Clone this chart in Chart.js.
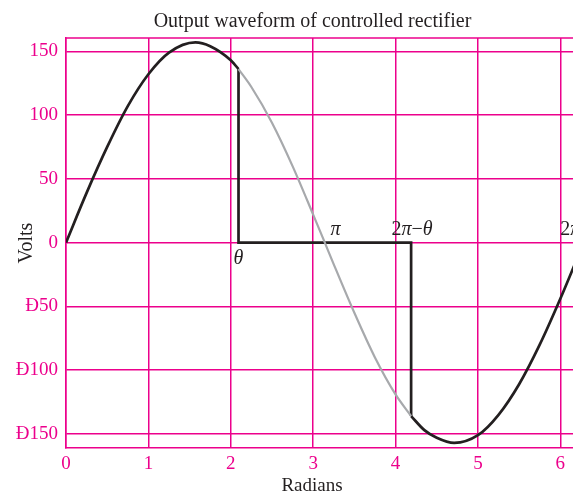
<!DOCTYPE html>
<html>
<head>
<meta charset="utf-8">
<script src="https://cdn.jsdelivr.net/npm/chart.js@4.4.1/dist/chart.umd.min.js"></script>
<style>
  html, body { margin: 0; padding: 0; background: #fff; overflow: hidden; }
  #wrap { width: 573px; height: 494px; position: relative; }
</style>
</head>
<body>
<div id="wrap"><canvas id="rectifierChart"></canvas></div>
<script>
// supply wave while the thyristor conducts, 0 .. θ
const leadX = [0, 0.25, 0.5, 0.75, 1.0, 1.25, 1.571, 1.75, 2.0, 2.094];
const leadY = [0, 39, 75, 107, 132, 149, 157, 154, 143, 136];
// part of the supply wave that is blocked, θ .. 2π−θ
const blockedX = [2.094, 2.25, 2.5, 2.75, 3.0, 3.1416, 3.25, 3.5, 3.75, 4.0, 4.189];
const blockedY = [136, 122, 94, 60, 22, 0, -17, -55, -90, -119, -136];
// conduction again from 2π−θ
const tailX = [4.189, 4.35, 4.5, 4.712, 5.0, 5.25, 5.5, 5.75, 6.0, 6.283];
const tailY = [-136, -147, -153, -157, -151, -135, -111, -80, -44, 0];
// output step: drop at θ, zero, drop at 2π−θ
const stepX = [2.094, 2.094, 4.189, 4.189];
const stepY = [136, 0, 0, -136];

const xTicks = [0, 1, 2, 3, 4, 5, 6];
const yTicks = [-150, -100, -50, 0, 50, 100, 150];

const MAGENTA = '#ec008c';
const INK = '#231f20';
const SERIF = '"Liberation Serif", "Times New Roman", serif';

const toPoints = (xs, ys) => xs.map((x, i) => ({ x: x, y: ys[i] }));

// angle markers written along the zero line
const angleLabels = [
  { parts: [['π', 'italic']], x: 3.27, y: 0, dy: -8, align: 'center' },
  { parts: [['2', 'normal'], ['π', 'italic'], ['−', 'normal'], ['θ', 'italic']], x: 4.2, y: 0, dy: -8, align: 'center' },
  { parts: [['θ', 'italic']], x: 2.094, y: 0, dy: 21, align: 'center' },
  { parts: [['2', 'normal'], ['π', 'italic']], x: 6.0, y: 0, dy: -8, align: 'left' }
];

const decorations = {
  id: 'decorations',
  afterDraw(chart) {
    const { ctx, chartArea, scales: { x, y } } = chart;
    ctx.save();
    // frame line along the top
    ctx.strokeStyle = MAGENTA;
    ctx.lineWidth = 1.5;
    ctx.beginPath();
    ctx.moveTo(chartArea.left, chartArea.top);
    ctx.lineTo(chartArea.right, chartArea.top);
    ctx.stroke();

    ctx.fillStyle = INK;
    ctx.textBaseline = 'alphabetic';
    ctx.textAlign = 'center';
    ctx.font = '20px ' + SERIF;
    ctx.fillText('Output waveform of controlled rectifier', 312.5, 27);
    ctx.font = '19px ' + SERIF;
    ctx.fillText('Radians', 312, 491);

    ctx.textAlign = 'left';
    angleLabels.forEach(lbl => {
      const widths = lbl.parts.map(([t, st]) => {
        ctx.font = st + ' 20px ' + SERIF;
        return ctx.measureText(t).width;
      });
      const total = widths.reduce((a, b) => a + b, 0);
      let px = x.getPixelForValue(lbl.x);
      px -= lbl.align === 'center' ? total / 2 : lbl.align === 'right' ? total : 0;
      const py = y.getPixelForValue(lbl.y) + lbl.dy;
      lbl.parts.forEach(([t, st], i) => {
        ctx.font = st + ' 20px ' + SERIF;
        ctx.fillText(t, px, py);
        px += widths[i];
      });
    });
    ctx.restore();
  }
};

new Chart(document.getElementById('rectifierChart'), {
  type: 'line',
  data: {
    datasets: [
      { data: toPoints(blockedX, blockedY), borderColor: '#a7a9ac', borderWidth: 2.2, cubicInterpolationMode: 'monotone' },
      { data: toPoints(leadX, leadY), borderColor: INK, borderWidth: 2.7, cubicInterpolationMode: 'monotone' },
      { data: toPoints(tailX, tailY), borderColor: INK, borderWidth: 2.7, cubicInterpolationMode: 'monotone' },
      { data: toPoints(stepX, stepY), borderColor: INK, borderWidth: 2.7, tension: 0, borderJoinStyle: 'miter' }
    ]
  },
  options: {
    responsive: true,
    maintainAspectRatio: false,
    animation: false,
    layout: { padding: { top: 38, right: 0, bottom: 0, left: 0 } },
    elements: { point: { radius: 0 } },
    plugins: {
      legend: { display: false },
      tooltip: { enabled: false }
    },
    scales: {
      x: {
        type: 'linear',
        min: 0,
        max: 6.154,
        afterBuildTicks: s => { s.ticks = xTicks.map(v => ({ value: v })); },
        afterFit: s => { s.height = 46; },
        grid: { color: MAGENTA, lineWidth: 1.5, drawTicks: false },
        border: { color: MAGENTA, width: 1.5 },
        ticks: { color: MAGENTA, padding: 5, font: { family: SERIF, size: 19 } }
      },
      y: {
        min: -161,
        max: 160.4,
        afterBuildTicks: s => { s.ticks = yTicks.map(v => ({ value: v })); },
        afterFit: s => { s.width = 66; },
        grid: { color: MAGENTA, lineWidth: 1.5, drawTicks: false },
        border: { color: MAGENTA, width: 1.5 },
        ticks: {
          color: MAGENTA, padding: 8, font: { family: SERIF, size: 19 },
          callback: v => v < 0 ? 'Đ' + Math.abs(v) : String(v)
        },
        title: {
          display: true, text: 'Volts', color: INK,
          font: { family: SERIF, size: 20 }, padding: { top: 15, bottom: 0 }
        }
      }
    }
  },
  plugins: [decorations]
});
</script>
</body>
</html>
